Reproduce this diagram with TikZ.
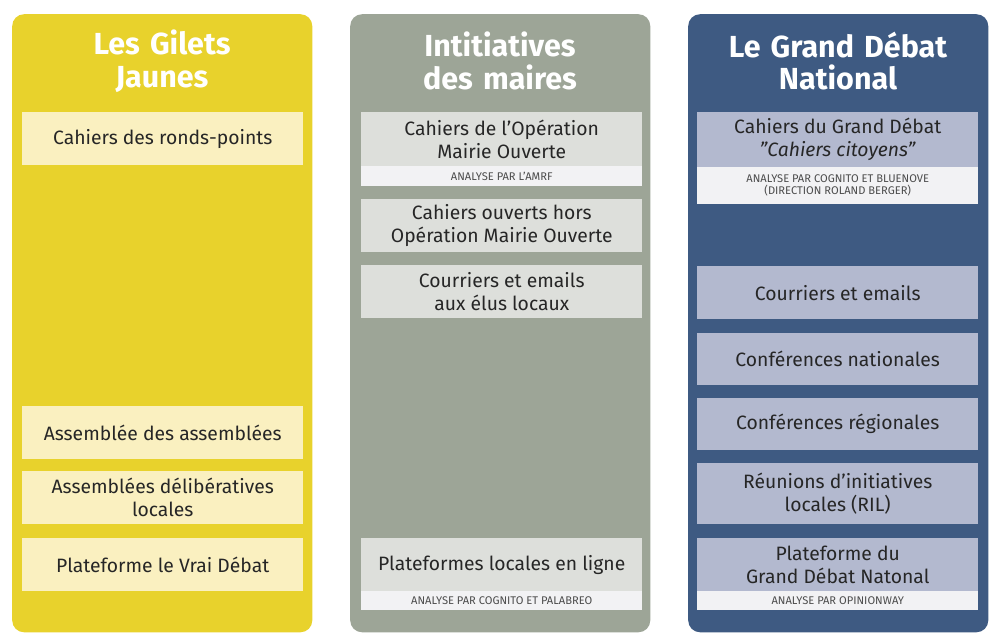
\documentclass[tikz,border=0pt]{standalone}
\usepackage{fontspec}
\setmainfont{Fira Sans}
\usetikzlibrary{positioning}
\definecolor{gjcol}{HTML}{E8D22C}
\definecolor{gjbox}{HTML}{FAF0C0}
\definecolor{macol}{HTML}{9DA597}
\definecolor{mabox}{HTML}{DDDFDB}
\definecolor{gdcol}{HTML}{3E5A82}
\definecolor{gdbox}{HTML}{B3B9CF}
\definecolor{subbox}{HTML}{F2F2F4}
\tikzset{
  column/.style={rounded corners=10pt, inner sep=0pt, minimum width=9cm, minimum height=18.54cm, anchor=north west},
  title/.style={text=white, font=\bfseries\fontsize{26}{28}\selectfont, align=center, text width=8cm},
  box/.style={minimum width=8.43cm, inner sep=0pt, align=center, anchor=north west, font=\fontsize{16.5}{19.5}\selectfont, text=black!85},
  sub/.style={minimum width=8.43cm, inner sep=0pt, align=center, anchor=north west, fill=subbox, font=\fontsize{9.5}{10.5}\selectfont, text=black!70}
}
\begin{document}
\begin{tikzpicture}[x=0.03cm,y=-0.03cm]
\useasboundingbox (0,0) rectangle (1000,644);
			% columns
			\node[column, fill=gjcol] (gj) at (12,14) {};
			\node[column, fill=macol] (ma) at (350,14) {};
			\node[column, fill=gdcol] (gd) at (688,14) {};
			\node[title] (gjt) at (162,61) {Les Gilets\\Jaunes};
			\node[title] (mat) at (500,61) {Intitiatives\\des maires};
			\node[title] (gdt) at (838,61) {Le Grand Débat\\National};
			% gilets jaunes
			\node[box, fill=gjbox, minimum height=1.59cm] (gj1) at (22,112) {Cahiers des ronds-points};
			\node[box, fill=gjbox, minimum height=1.59cm] (gj2) at (22,406) {Assemblée des assemblées};
			\node[box, fill=gjbox, minimum height=1.59cm] (gj3) at (22,471) {Assemblées délibératives\\locales};
			\node[box, fill=gjbox, minimum height=1.59cm] (gj4) at (22,538) {Plateforme le Vrai Débat};
			% maires
			\node[box, fill=mabox, minimum height=1.62cm] (ma1) at (361,112) {Cahiers de l\symbol{39}Opération\\Mairie Ouverte};
			\node[sub, minimum height=0.6cm] (ma1s) at (361,166) {ANALYSE PAR L\symbol{39}AMRF};
			\node[box, fill=mabox, minimum height=1.59cm] (ma2) at (361,199) {Cahiers ouverts hors\\Opération Mairie Ouverte};
			\node[box, fill=mabox, minimum height=1.59cm] (ma3) at (361,265) {Courriers et emails\\aux élus locaux};
			\node[box, fill=mabox, minimum height=1.59cm] (ma4) at (361,538) {Plateformes locales en ligne};
			\node[sub, minimum height=0.57cm] (ma4s) at (361,591) {ANALYSE PAR COGNITO ET PALABREO};
			% grand debat
			\node[box, fill=gdbox, minimum height=1.65cm] (gd1) at (697,112) {Cahiers du Grand Débat\\\textit{\symbol{34}Cahiers citoyens\symbol{34}}};
			\node[sub, minimum height=1.11cm] (gd1s) at (697,167) {ANALYSE PAR COGNITO ET BLUENOVE\\(DIRECTION ROLAND BERGER)};
			\node[box, fill=gdbox, minimum height=1.59cm] (gd2) at (697,266) {Courriers et emails};
			\node[box, fill=gdbox, minimum height=1.56cm] (gd3) at (697,333) {Conférences nationales};
			\node[box, fill=gdbox, minimum height=1.56cm] (gd4) at (697,398) {Conférences régionales};
			\node[box, fill=gdbox, minimum height=1.83cm] (gd5) at (697,463) {Réunions d\symbol{39}initiatives\\locales (RIL)};
			\node[box, fill=gdbox, minimum height=1.59cm] (gd6) at (697,538) {Plateforme du\\Grand Débat Natonal};
			\node[sub, minimum height=0.57cm] (gd6s) at (697,591) {ANALYSE PAR OPINIONWAY};
\end{tikzpicture}
\end{document}
